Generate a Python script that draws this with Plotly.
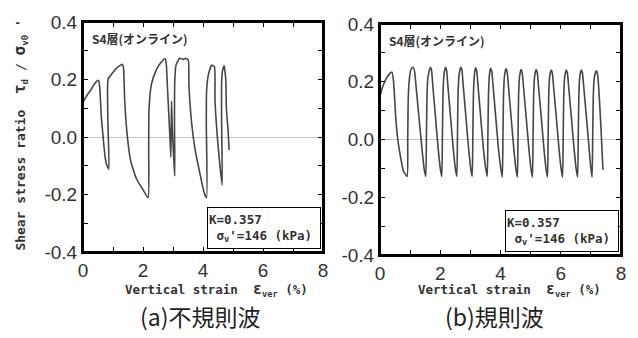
import plotly.graph_objects as go

# ---- data ----
# (a) irregular wave
x_a = [0.00, 0.10, 0.28, 0.42, 0.52, 0.56, 0.61, 0.67, 0.74, 0.80, 0.86,
       0.83, 0.82, 0.85, 0.94, 1.11, 1.31, 1.35, 1.39, 1.48, 1.59, 1.78, 2.00, 2.17,
       2.19, 2.20, 2.28, 2.44, 2.61, 2.74, 2.78, 2.81, 2.89, 2.93,
       2.95, 2.98, 3.06,
       3.05, 3.06, 3.10, 3.22, 3.34, 3.42, 3.51, 3.53, 3.62, 3.73, 3.90, 4.04, 4.12,
       4.11, 4.12, 4.18, 4.29, 4.38, 4.40, 4.51, 4.64,
       4.62, 4.62, 4.65, 4.71, 4.74, 4.76, 4.78, 4.84, 4.87]
y_a = [0.120, 0.140, 0.167, 0.190, 0.197, 0.170, 0.072, 0.000, -0.072, -0.100, -0.111,
       0.050, 0.183, 0.205, 0.217, 0.239, 0.253, 0.240, 0.128, 0.000, -0.083, -0.145, -0.183, -0.211,
       -0.050, 0.094, 0.183, 0.233, 0.261, 0.272, 0.250, 0.183, 0.017, -0.070,
       0.125, 0.020, -0.135,
       0.050, 0.200, 0.250, 0.274, 0.270, 0.274, 0.267, 0.183, 0.050, -0.039, -0.128, -0.194, -0.211,
       0.050, 0.161, 0.217, 0.250, 0.245, 0.128, -0.039, -0.167,
       0.050, 0.183, 0.230, 0.248, 0.220, 0.200, 0.100, 0.017, -0.045]

# (b) regular wave
x_b = [0.00, 0.08, 0.20, 0.32, 0.40, 0.45, 0.52, 0.59, 0.68, 0.78, 0.90,
       0.92, 0.94, 0.98, 1.04, 1.10, 1.15, 1.20, 1.30, 1.40, 1.47, 1.52,
       1.54, 1.56, 1.59, 1.67, 1.71, 1.75, 1.84, 1.93, 2.00, 2.05,
       2.07, 2.09, 2.12, 2.17, 2.21, 2.25, 2.34, 2.43, 2.50, 2.55,
       2.57, 2.59, 2.62, 2.68, 2.72, 2.76, 2.85, 2.94, 3.01, 3.06,
       3.08, 3.10, 3.13, 3.17, 3.21, 3.25, 3.34, 3.43, 3.51, 3.56,
       3.58, 3.60, 3.63, 3.67, 3.71, 3.75, 3.84, 3.93, 4.01, 4.06,
       4.08, 4.10, 4.13, 4.18, 4.22, 4.26, 4.35, 4.44, 4.51, 4.56,
       4.58, 4.60, 4.63, 4.68, 4.72, 4.76, 4.85, 4.94, 5.01, 5.06,
       5.08, 5.10, 5.13, 5.18, 5.22, 5.26, 5.35, 5.44, 5.51, 5.56,
       5.58, 5.60, 5.63, 5.68, 5.72, 5.76, 5.85, 5.94, 6.01, 6.06,
       6.08, 6.10, 6.13, 6.18, 6.22, 6.26, 6.35, 6.44, 6.51, 6.56,
       6.58, 6.60, 6.63, 6.68, 6.72, 6.76, 6.85, 6.94, 7.00, 7.04,
       7.06, 7.08, 7.11, 7.18, 7.22, 7.26, 7.33, 7.40]
y_b = [0.150, 0.180, 0.210, 0.228, 0.233, 0.200, 0.080, 0.000, -0.060, -0.110, -0.128,
       0.000, 0.150, 0.215, 0.245, 0.250, 0.235, 0.180, 0.070, -0.040, -0.105, -0.128,
       0.000, 0.150, 0.215, 0.250, 0.240, 0.190, 0.080, -0.030, -0.100, -0.128,
       0.000, 0.150, 0.220, 0.250, 0.240, 0.190, 0.080, -0.030, -0.100, -0.128,
       0.000, 0.150, 0.220, 0.250, 0.240, 0.190, 0.080, -0.030, -0.100, -0.128,
       0.000, 0.150, 0.220, 0.248, 0.238, 0.190, 0.080, -0.030, -0.100, -0.128,
       0.000, 0.150, 0.220, 0.246, 0.236, 0.190, 0.080, -0.030, -0.100, -0.130,
       0.000, 0.150, 0.218, 0.245, 0.235, 0.190, 0.080, -0.030, -0.100, -0.130,
       0.000, 0.150, 0.215, 0.242, 0.232, 0.185, 0.080, -0.030, -0.100, -0.130,
       0.000, 0.150, 0.215, 0.242, 0.232, 0.185, 0.080, -0.030, -0.100, -0.130,
       0.000, 0.150, 0.215, 0.240, 0.230, 0.185, 0.080, -0.030, -0.100, -0.130,
       0.000, 0.150, 0.215, 0.240, 0.230, 0.185, 0.080, -0.030, -0.100, -0.130,
       0.000, 0.150, 0.215, 0.240, 0.230, 0.185, 0.080, -0.030, -0.100, -0.130,
       0.000, 0.150, 0.212, 0.238, 0.228, 0.180, 0.050, -0.105]

# tick marks every unit / every 0.1, labels only on the major ones
x_tick_positions = [0, 1, 2, 3, 4, 5, 6, 7, 8]
x_tick_labels = ["0", "", "2", "", "4", "", "6", "", "8"]
y_tick_positions = [-0.4, -0.3, -0.2, -0.1, 0.0, 0.1, 0.2, 0.3, 0.4]
y_tick_labels = ["-0.4", "", "-0.2", "", "0.0", "", "0.2", "", "0.4"]

panel_titles = ["(a)不規則波", "(b)規則波"]
layer_label = "<b>S4層(オンライン)</b>"
box_text = "<b>K=0.357<br> σ<sub>v</sub>'=146 (kPa)</b>"
x_title = "<b>Vertical strain  <span style='font-size:15px'>ε</span><sub>ver</sub> (%)</b>"
y_title = ("<b>Shear stress ratio  <span style='font-size:16px'>τ</span><sub>d</sub>"
           " / <span style='font-size:16px'>σ</span><sub>v0</sub> '</b>")

W, H = 638, 338
# plot areas in pixels (left, right, top, bottom)
areas = [(83, 323, 13, 252), (380, 621, 15, 255)]
xtitle_cx = [216, 509]
ptitle_cx = [200, 494]

ML, MR, MT, MB = 83, W - 621, 13, H - 255
PW, PH = W - ML - MR, H - MT - MB

def px_x(px):
    return (px - ML) / PW

def px_y(py):
    return (H - MB - py) / PH

fig = go.Figure()
fig.add_trace(go.Scatter(x=x_a, y=y_a, mode="lines", xaxis="x", yaxis="y",
                         line=dict(color="rgb(70,70,70)", width=1.6, shape="spline", smoothing=0.5),
                         showlegend=False, hoverinfo="skip"))
fig.add_trace(go.Scatter(x=x_b, y=y_b, mode="lines", xaxis="x2", yaxis="y2",
                         line=dict(color="rgb(70,70,70)", width=1.6, shape="spline", smoothing=0.5),
                         showlegend=False, hoverinfo="skip"))

tickfont = dict(family="Liberation Sans, Arial", size=19, color="rgb(50,50,50)")
frame = "black"

def xa(l, r, anchor):
    return dict(domain=[px_x(l), px_x(r)], range=[0, 8], anchor=anchor,
                tickmode="array", tickvals=x_tick_positions, ticktext=x_tick_labels,
                ticks="inside", ticklen=5, tickwidth=1, tickcolor=frame,
                showline=True, linecolor=frame, linewidth=2, mirror="allticks",
                showgrid=False, zeroline=False, tickfont=tickfont)

def ya(t, b, anchor):
    return dict(domain=[px_y(b), px_y(t)], range=[-0.4, 0.4], anchor=anchor,
                tickmode="array", tickvals=y_tick_positions, ticktext=y_tick_labels,
                ticks="inside", ticklen=5, tickwidth=1, tickcolor=frame,
                showline=True, linecolor=frame, linewidth=2, mirror="allticks",
                showgrid=False, zeroline=True, zerolinecolor="rgb(196,196,196)", zerolinewidth=1,
                tickfont=tickfont)

(l1, r1, t1, b1), (l2, r2, t2, b2) = areas
fig.update_layout(
    width=W, height=H, margin=dict(l=ML, r=MR, t=MT, b=MB, pad=0),
    paper_bgcolor="white", plot_bgcolor="white",
    xaxis=xa(l1, r1, "y"), yaxis=ya(t1, b1, "x"),
    xaxis2=xa(l2, r2, "y2"), yaxis2=ya(t2, b2, "x2"),
)

# frame also drawn as domain-referenced rectangles (same place as the axis lines)
for xs, ys in (("x", "y"), ("x2", "y2")):
    fig.add_shape(type="rect", xref=xs + " domain", yref=ys + " domain", x0=0, x1=1, y0=0, y1=1,
                  line=dict(color=frame, width=2), fillcolor="rgba(0,0,0,0)", layer="above")

ann = []
mono_bold = dict(family="DejaVu Sans Mono, Liberation Mono", size=12.5, color="rgb(50,50,50)")
for i, (l, r, t, b) in enumerate(areas):
    ann.append(dict(text=x_title, x=px_x(xtitle_cx[i]), y=px_y(291), xref="paper", yref="paper",
                    xanchor="center", yanchor="middle", showarrow=False, font=mono_bold))
    ann.append(dict(text=panel_titles[i], x=px_x(ptitle_cx[i]), y=px_y(318),
                    xref="paper", yref="paper", xanchor="center", yanchor="middle", showarrow=False,
                    font=dict(family="Noto Sans CJK JP", size=23, color="rgb(34,34,34)")))
    ann.append(dict(text=layer_label, x=px_x(l + 7), y=px_y(t + 17), xref="paper", yref="paper",
                    xanchor="left", yanchor="middle", showarrow=False,
                    font=dict(family="Noto Sans CJK JP", size=12, color="rgb(50,50,50)")))
    ann.append(dict(text=box_text, x=px_x(r - 2), y=px_y(b - 3), xref="paper", yref="paper",
                    xanchor="right", yanchor="bottom", showarrow=False, align="left",
                    width=110, height=38, bordercolor=frame, borderwidth=1, borderpad=1,
                    bgcolor="white", font=dict(family="DejaVu Sans Mono, Liberation Mono", size=12.5, color="rgb(50,50,50)")))

ann.append(dict(text=y_title, x=px_x(20), y=px_y(131),
                xref="paper", yref="paper", xanchor="center", yanchor="middle", textangle=-90,
                showarrow=False, font=dict(family="DejaVu Sans Mono, Liberation Mono", size=13, color="rgb(50,50,50)")))
fig.update_layout(annotations=ann)

fig.write_html("out.html", config={"displayModeBar": False},
               post_script="document.body.style.margin='0';")
